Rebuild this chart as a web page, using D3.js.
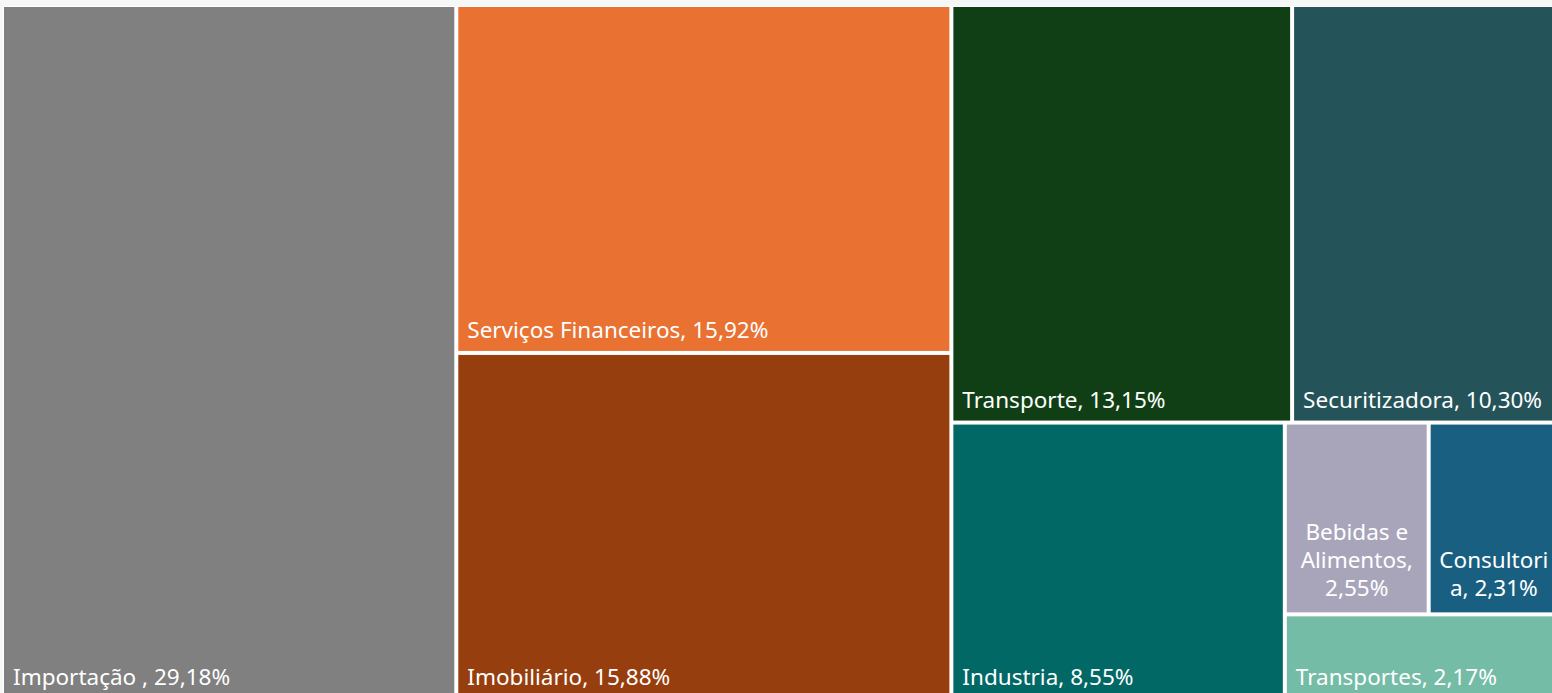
<!DOCTYPE html>
<html>
<head>
<meta charset="utf-8">
<script src="https://cdn.jsdelivr.net/npm/d3@7"></script>
<style>
  html, body { margin: 0; padding: 0; background: #f6f8f7; overflow: hidden; }
  svg { display: block; }
  text { font-family: "Noto Sans", Roboto, sans-serif; fill: #ffffff; }
</style>
</head>
<body>
<svg id="chart"></svg>
<script>
// Setores e participação (%)
const categories = ["Importação ", "Serviços Financeiros", "Imobiliário", "Transporte", "Securitizadora",
  "Industria", "Bebidas e Alimentos", "Consultoria", "Transportes"];
const values = [29.18, 15.92, 15.88, 13.15, 10.30, 8.55, 2.55, 2.31, 2.17];
const colors = ["#808080", "#e97132", "#973e0f", "#113f15", "#245359",
  "#016865", "#a8a5bb", "#185f81", "#74bca5"];

const totalW = 1552, totalH = 693;
const margin = { top: 7, left: 4 },
  width = 1553,
  height = 691;

const fmt = (v) => v.toFixed(2).replace(".", ",") + "%";

const svg = d3.select("#chart").attr("width", totalW).attr("height", totalH);

// fundo branco atrás dos blocos (as separações ficam brancas)
svg.append("rect")
  .attr("x", margin.left - 1)
  .attr("y", margin.top - 1)
  .attr("width", width + 2)
  .attr("height", height + 2)
  .attr("fill", "#ffffff");

const root = d3.hierarchy({ children: categories.map((c, i) => ({ name: c, value: values[i], color: colors[i] })) })
  .sum((d) => d.value || 0);

d3.treemap()
  .tile(d3.treemapSquarify.ratio(1))
  .size([width, height])
  .paddingInner(4)
  .round(false)(root);

const g = svg.append("g").attr("transform", `translate(${margin.left},${margin.top})`);

const cell = g.selectAll("g.cell")
  .data(root.leaves())
  .join("g")
  .attr("class", "cell");

cell.append("rect")
  .attr("x", (d) => d.x0)
  .attr("y", (d) => d.y0)
  .attr("width", (d) => d.x1 - d.x0)
  .attr("height", (d) => d.y1 - d.y0)
  .attr("fill", (d) => d.data.color);

const fontSize = 22.5, lineH = 28, padX = 9, padBottom = 13;

cell.each(function (d) {
  const label = d.data.name + ", " + fmt(d.data.value);
  const w = d.x1 - d.x0;
  const t = d3.select(this).append("text").style("font-size", fontSize + "px");
  t.text(label);
  if (t.node().getComputedTextLength() <= w - 2 * padX) {
    t.attr("x", d.x0 + padX).attr("y", d.y1 - padBottom);
    return;
  }
  // quebra de linha: palavras, e por caractere se a palavra não couber
  const avail = w - 10;
  const measure = (s) => { t.text(s); return t.node().getComputedTextLength(); };
  const lines = [];
  let cur = "";
  label.split(" ").forEach((word) => {
    const tryLine = cur ? cur + " " + word : word;
    if (measure(tryLine) <= avail) { cur = tryLine; return; }
    if (cur) lines.push(cur);
    cur = "";
    let rest = word;
    while (measure(rest) > avail) {
      let k = rest.length;
      while (k > 1 && measure(rest.slice(0, k)) > avail) k--;
      lines.push(rest.slice(0, k));
      rest = rest.slice(k);
    }
    cur = rest;
  });
  if (cur) lines.push(cur);
  t.text("");
  const cx = (d.x0 + d.x1) / 2;
  const lastY = d.y1 - 16;
  lines.forEach((ln, i) => {
    t.append("tspan")
      .attr("x", cx)
      .attr("y", lastY - (lines.length - 1 - i) * lineH)
      .attr("text-anchor", "middle")
      .text(ln);
  });
});
</script>
</body>
</html>
